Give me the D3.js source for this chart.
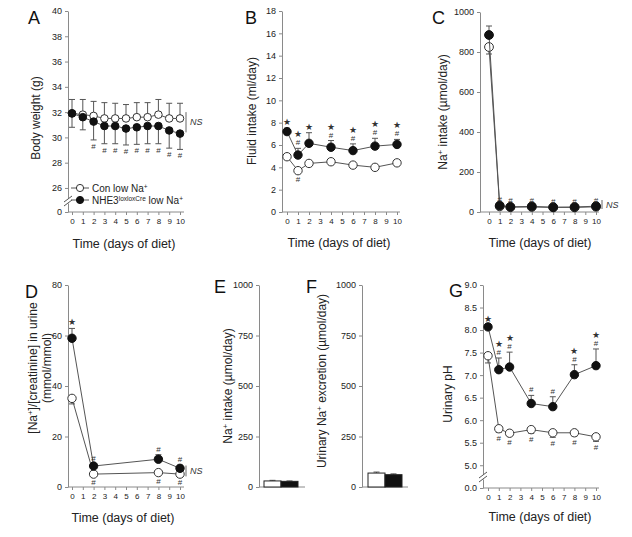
<!DOCTYPE html>
<html>
<head>
<meta charset="utf-8">
<script src="https://cdn.jsdelivr.net/npm/d3@7"></script>
<style>
  body { margin: 0; background: #fff; }
  svg { font-family: "Liberation Sans", Arial, sans-serif; }
</style>
</head>
<body>
<script>
// ---- data ----
const daysA = d3.range(0, 11);
const daysB = [0, 1, 2, 4, 6, 8, 10];
const daysD = [0, 2, 8, 10];

// A: body weight (g)
const aConMean = [31.9, 31.8, 31.7, 31.5, 31.5, 31.5, 31.6, 31.6, 31.8, 31.5, 31.5];
const aConErr = [33.0, 33.0, 32.85, 32.75, 32.7, 32.6, 32.75, 32.75, 33.0, 32.7, 32.7];
const aKoMean = [31.9, 31.6, 31.25, 30.9, 30.9, 30.7, 30.8, 30.9, 30.9, 30.55, 30.3];
const aKoErr = [30.8, 30.6, 29.8, 29.5, 29.5, 29.4, 29.45, 29.5, 29.5, 29.15, 29.05];
const aKoMarks = ["", "", "#", "#", "#", "#", "#", "#", "#", "#", "#"];

// B: fluid intake (ml/day)
const bConMean = [4.95, 3.7, 4.35, 4.5, 4.2, 4.0, 4.4];
const bConErr = [4.8, 3.5, 4.2, 4.35, 4.05, 3.85, 4.25];
const bConMarks = ["", "#", "", "", "", "", ""];
const bKoMean = [7.2, 5.1, 6.15, 5.8, 5.5, 5.9, 6.05];
const bKoErr = [7.5, 5.7, 7.1, 6.4, 6.1, 6.6, 6.5];
const bKoMarks = ["*", "#*", "*", "#*", "#*", "#*", "#*"];

// C: Na+ intake (umol/day)
const cConMean = [825, 28, 24, 25, 23, 23, 26];
const cConErr = [790, 26, 22, 23, 21, 21, 24];
const cKoMean = [885, 32, 26, 28, 24, 25, 29];
const cKoErr = [930, 34, 28, 30, 26, 27, 31];
const cKoMarks = ["", "#", "#", "#", "#", "#", "#"];

// D: [Na+]/[creatinine] in urine (mmol/mmol)
const dConMean = [35.1, 5.1, 5.7, 5.1];
const dConErr = [32.9, 4.3, 4.8, 4.2];
const dConMarks = ["", "#", "#", "#"];
const dKoMean = [58.9, 8.3, 11.0, 7.4];
const dKoErr = [62.8, 9.3, 12.8, 8.6];
const dKoMarks = ["*", "#", "#", "#"];

// E / F: bars, control vs NHE3loxloxCre
const groups = ["Con", "NHE3"];
const eMean = [30, 28];
const eErr = [33, 30];
const fMean = [69, 61];
const fErr = [74, 65];

// G: urinary pH
const gConMean = [7.43, 5.81, 5.71, 5.79, 5.72, 5.72, 5.63];
const gConErr = [7.27, 5.73, 5.65, 5.71, 5.62, 5.65, 5.53];
const gConMarks = ["", "#", "#", "#", "#", "#", "#"];
const gKoMean = [8.07, 7.12, 7.18, 6.37, 6.3, 7.01, 7.21];
const gKoErr = [8.12, 7.38, 7.51, 6.55, 6.52, 7.23, 7.58];
const gKoMarks = ["*", "#*", "#*", "#", "#", "#*", "#*"];

// ---- drawing ----
const axisColor = "#8a8a8a";
const lineColor = "#555";
const ink = "#222";

const svg = d3.select("body").append("svg")
  .attr("width", 632)
  .attr("height", 537);

function rich(sel, parts) {
  parts.forEach(([s, sup]) => {
    const t = sel.append("tspan").text(s);
    if (sup) t.attr("baseline-shift", "super").attr("font-size", "65%");
  });
  return sel;
}

function yTitle(x, y, parts) {
  const t = svg.append("text")
    .attr("transform", `translate(${x},${y}) rotate(-90)`)
    .attr("text-anchor", "middle")
    .attr("dy", "0.35em")
    .attr("font-size", 12)
    .attr("fill", ink);
  rich(t, parts);
}

function letter(x, y, s) {
  svg.append("text").attr("x", x).attr("y", y)
    .attr("font-size", 18).attr("fill", "#111").text(s);
}

function yAxis(p) {
  const y = d3.scaleLinear().domain(p.yDomain).range(p.yRange);
  const ax = svg.append("g")
    .attr("transform", `translate(${p.axisX},0)`)
    .call(d3.axisLeft(y).tickValues(p.yTicks).tickSize(3).tickSizeOuter(0)
      .tickFormat(p.fmt || d3.format("d")));
  ax.select(".domain").attr("stroke", axisColor);
  ax.selectAll(".tick line").attr("stroke", axisColor);
  ax.selectAll(".tick text").attr("font-size", 9).attr("fill", ink);

  // x axis baseline
  svg.append("line")
    .attr("x1", p.axisX).attr("x2", p.xEnd)
    .attr("y1", p.yRange[0]).attr("y2", p.yRange[0])
    .attr("stroke", axisColor);

  if (p.breakY) {
    svg.append("rect").attr("x", p.axisX - 2).attr("y", p.breakY - 2.5)
      .attr("width", 4).attr("height", 5).attr("fill", "#fff");
    [-2, 2].forEach(d => {
      svg.append("line")
        .attr("x1", p.axisX - 4).attr("x2", p.axisX + 4)
        .attr("y1", p.breakY + d + 3).attr("y2", p.breakY + d - 3)
        .attr("stroke", "#555");
    });
  }
  return y;
}

function xAxisDays(p, y) {
  const x = d3.scaleLinear().domain([0, 10]).range([p.x0, p.x10]);
  const ax = svg.append("g")
    .attr("transform", `translate(0,${p.yRange[0]})`)
    .call(d3.axisBottom(x).tickValues(d3.range(0, 11)).tickSize(3));
  ax.select(".domain").remove();
  ax.selectAll(".tick line").attr("stroke", axisColor);
  ax.selectAll(".tick text").attr("font-size", 8).attr("fill", ink);
  svg.append("text")
    .attr("x", p.titleX).attr("y", p.titleY)
    .attr("text-anchor", "middle").attr("font-size", 12.5).attr("fill", ink)
    .text("Time (days of diet)");
  return x;
}

function series(x, y, days, mean, err, marks, filled, r, below) {
  const g = svg.append("g");
  g.append("path")
    .datum(days.map((d, i) => [d, mean[i]]))
    .attr("fill", "none").attr("stroke", lineColor).attr("stroke-width", 1)
    .attr("d", d3.line().x(d => x(d[0])).y(d => y(d[1])));

  days.forEach((d, i) => {
    g.append("line")
      .attr("x1", x(d)).attr("x2", x(d))
      .attr("y1", y(mean[i])).attr("y2", y(err[i]))
      .attr("stroke", lineColor);
    g.append("line")
      .attr("x1", x(d) - 3).attr("x2", x(d) + 3)
      .attr("y1", y(err[i])).attr("y2", y(err[i]))
      .attr("stroke", lineColor);
  });

  g.selectAll("circle").data(days).enter().append("circle")
    .attr("cx", d => x(d))
    .attr("cy", (d, i) => y(mean[i]))
    .attr("r", r)
    .attr("fill", filled ? "#111" : "#fff")
    .attr("stroke", filled ? "#111" : "#333")
    .attr("stroke-width", 1);

  if (!marks) return;
  days.forEach((d, i) => {
    marks[i].split("").forEach((m, k) => {
      const base = y(err[i]);
      const yy = below ? base + 9 + k * 8 : base - 3 - k * 8;
      g.append("text")
        .attr("x", x(d)).attr("y", yy)
        .attr("text-anchor", "middle")
        .attr("font-size", m === "*" ? 9 : 8)
        .attr("fill", "#333")
        .text(m === "*" ? "\u2605" : "#");
    });
  });
}

function nsBracket(x, y1, y2) {
  svg.append("line").attr("x1", x).attr("x2", x)
    .attr("y1", y1).attr("y2", y2).attr("stroke", "#666");
  svg.append("text").attr("x", x + 4).attr("y", (y1 + y2) / 2 + 3)
    .attr("font-size", 9).attr("font-style", "italic").attr("fill", "#333")
    .text("NS");
}

// Panel A
const pA = { axisX: 68, x0: 72, x10: 180, xEnd: 184, yDomain: [0, 25, 40], yRange: [212, 200.6, 11],
  yTicks: [0, 26, 28, 30, 32, 34, 36, 38, 40], breakY: 201, titleX: 124, titleY: 248 };
const yA = yAxis(pA);
const xA = xAxisDays(pA, yA);
series(xA, yA, daysA, aConMean, aConErr, null, false, 3.8, false);
series(xA, yA, daysA, aKoMean, aKoErr, aKoMarks, true, 3.8, true);
nsBracket(186, yA(32.0), yA(30.4));
yTitle(36, 118, [["Body weight (g)"]]);
letter(28, 24, "A");

// legend
[["Con low Na", false, 188], ["NHE3", true, 200]].forEach(([label, filled, yy]) => {
  svg.append("line").attr("x1", 71).attr("x2", 89).attr("y1", yy).attr("y2", yy)
    .attr("stroke", lineColor);
  svg.append("circle").attr("cx", 80).attr("cy", yy).attr("r", 3.6)
    .attr("fill", filled ? "#111" : "#fff").attr("stroke", filled ? "#111" : "#333");
  const t = svg.append("text").attr("x", 92).attr("y", yy).attr("dy", "0.35em")
    .attr("font-size", 10).attr("fill", ink);
  if (filled) rich(t, [["NHE3"], ["loxloxCre", 1], [" low Na"], ["+", 1]]);
  else rich(t, [["Con low Na"], ["+", 1]]);
});

// Panel B
const pB = { axisX: 282, x0: 287, x10: 397, xEnd: 400, yDomain: [0, 18], yRange: [212, 11],
  yTicks: d3.range(0, 19, 2), titleX: 339, titleY: 247 };
const yB = yAxis(pB);
const xB = xAxisDays(pB, yB);
series(xB, yB, daysB, bConMean, bConErr, bConMarks, false, 4.2, true);
series(xB, yB, daysB, bKoMean, bKoErr, bKoMarks, true, 4.2, false);
yTitle(252, 111, [["Fluid intake (ml/day)"]]);
letter(245, 24, "B");

// Panel C
const pC = { axisX: 480, x0: 489, x10: 596, xEnd: 599, yDomain: [0, 1000], yRange: [212, 12],
  yTicks: d3.range(0, 1001, 200), titleX: 540, titleY: 247 };
const yC = yAxis(pC);
const xC = xAxisDays(pC, yC);
series(xC, yC, daysB, cConMean, cConErr, null, false, 4.4, true);
series(xC, yC, daysB, cKoMean, cKoErr, cKoMarks, true, 4.4, false);
nsBracket(602, yC(60), yC(15));
yTitle(443, 112, [["Na"], ["+", 1], [" intake (\u00b5mol/day)"]]);
letter(432, 24, "C");

// Panel D
const pD = { axisX: 68, x0: 72, x10: 180, xEnd: 184, yDomain: [0, 80], yRange: [487, 285],
  yTicks: d3.range(0, 81, 20), titleX: 123, titleY: 522 };
const yD = yAxis(pD);
const xD = xAxisDays(pD, yD);
series(xD, yD, daysD, dConMean, dConErr, dConMarks, false, 4.2, true);
series(xD, yD, daysD, dKoMean, dKoErr, dKoMarks, true, 4.2, false);
nsBracket(186, yD(8.5), yD(4.2));
yTitle(33, 368, [["[Na"], ["+", 1], ["]/[creatinine] in urine"]]);
yTitle(47, 368, [["(mmol/mmol)"]]);
letter(25, 298, "D");

// Panels E and F: bars
function barPanel(p, mean, err) {
  const y = yAxis(p);
  const x = d3.scaleBand().domain(groups).range(p.band).padding(0);
  groups.forEach((gname, i) => {
    svg.append("line")
      .attr("x1", x(gname) + x.bandwidth() / 2).attr("x2", x(gname) + x.bandwidth() / 2)
      .attr("y1", y(mean[i])).attr("y2", y(err[i])).attr("stroke", lineColor);
    svg.append("line")
      .attr("x1", x(gname) + x.bandwidth() / 2 - 3).attr("x2", x(gname) + x.bandwidth() / 2 + 3)
      .attr("y1", y(err[i])).attr("y2", y(err[i])).attr("stroke", lineColor);
  });
  svg.selectAll(null).data(groups).enter().append("rect")
    .attr("x", d => x(d))
    .attr("y", (d, i) => y(mean[i]))
    .attr("width", x.bandwidth())
    .attr("height", (d, i) => y(0) - y(mean[i]))
    .attr("fill", (d, i) => i ? "#111" : "#fff")
    .attr("stroke", "#222");
}
const pE = { axisX: 259, xEnd: 305, band: [264, 298], yDomain: [0, 1000], yRange: [487, 285],
  yTicks: d3.range(0, 1001, 250) };
barPanel(pE, eMean, eErr);
yTitle(228, 386, [["Na"], ["+", 1], [" intake (\u00b5mol/day)"]]);
letter(214, 293, "E");

const pF = { axisX: 362, xEnd: 408, band: [368, 402], yDomain: [0, 1000], yRange: [487, 285],
  yTicks: d3.range(0, 1001, 250) };
barPanel(pF, fMean, fErr);
yTitle(322, 381, [["Urinary Na"], ["+", 1], [" excretion (\u00b5mol/day)"]]);
letter(306, 293, "F");

// Panel G
const pG = { axisX: 483, x0: 488, x10: 596, xEnd: 599, yDomain: [0, 4.75, 9], yRange: [488, 476.5, 285],
  yTicks: [0, 5, 5.5, 6, 6.5, 7, 7.5, 8, 8.5, 9], fmt: d3.format(".1f"), breakY: 477,
  titleX: 540, titleY: 521 };
const yG = yAxis(pG);
const xG = xAxisDays(pG, yG);
series(xG, yG, daysB, gConMean, gConErr, gConMarks, false, 4.2, true);
series(xG, yG, daysB, gKoMean, gKoErr, gKoMarks, true, 4.2, false);
yTitle(448, 394, [["Urinary pH"]]);
letter(449, 297, "G");
</script>
</body>
</html>
